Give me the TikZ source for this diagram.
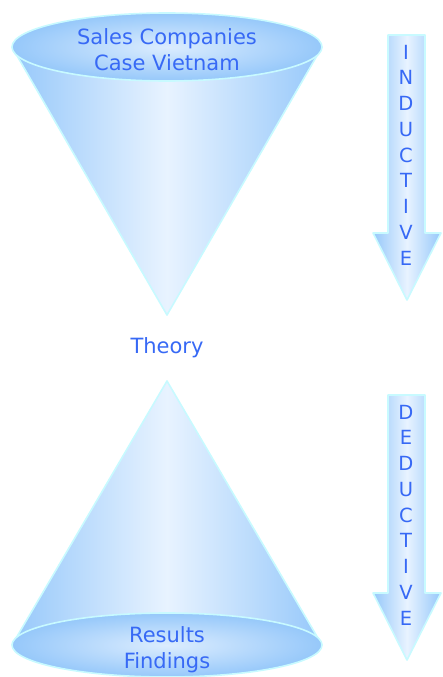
\documentclass[tikz,border=0pt]{standalone}
\usepackage{fontspec}
\setmainfont{DejaVu Sans}
\definecolor{txtblue}{RGB}{55,105,245}
\definecolor{edgeblue}{RGB}{150,200,250}
\definecolor{midblue}{RGB}{232,243,255}
\definecolor{rimcyan}{RGB}{200,250,255}
\begin{document}
\begin{tikzpicture}[x=1pt,y=-1pt,
  rim/.style={draw=rimcyan,line width=1.6pt,line join=round},
  body/.style={left color=edgeblue,right color=edgeblue,middle color=midblue},
  lid/.style={inner color=midblue!85!edgeblue,outer color=edgeblue},
  label/.style={text=txtblue,font=\fontsize{21}{26}\selectfont,align=center,inner sep=0pt},
  letters/.style={text=txtblue,font=\fontsize{19.5}{25.75}\selectfont,align=center,inner sep=0pt}]
\useasboundingbox (0,0) rectangle (442,677);
% top cone
\path[body] (12,47) -- (167,315) -- (322,47) -- cycle;
\draw[rim] (12,47) -- (167,315) -- (322,47);
\path[lid] (167,47) ellipse [x radius=155,y radius=34];
\draw[rim] (167,47) ellipse [x radius=155,y radius=34];
\node[label] (top) at (167,50) {Sales Companies\\Case Vietnam};
% theory
\node[label] (theory) at (167,348) {Theory};
% bottom cone
\path[body] (12,645) -- (167,381) -- (322,645) -- cycle;
\draw[rim] (12,645) -- (167,381) -- (322,645);
\path[lid] (167,645) ellipse [x radius=155,y radius=32];
\draw[rim] (167,645) ellipse [x radius=155,y radius=32];
\node[label] (bottom) at (167,650) {Results\\Findings};
% inductive arrow
\path[body] (388,35) -- (425,35) -- (425,233) -- (441,233) -- (407,300) -- (373,233) -- (388,233) -- cycle;
\draw[rim] (388,35) -- (425,35) -- (425,233) -- (441,233) -- (407,300) -- (373,233) -- (388,233) -- cycle;
\node[letters] (ind) at (406,155) {I\\N\\D\\U\\C\\T\\I\\V\\E};
% deductive arrow
\path[body] (388,395) -- (425,395) -- (425,593) -- (441,593) -- (407,660) -- (373,593) -- (388,593) -- cycle;
\draw[rim] (388,395) -- (425,395) -- (425,593) -- (441,593) -- (407,660) -- (373,593) -- (388,593) -- cycle;
\node[letters] (ded) at (406,515) {D\\E\\D\\U\\C\\T\\I\\V\\E};
\end{tikzpicture}
\end{document}
